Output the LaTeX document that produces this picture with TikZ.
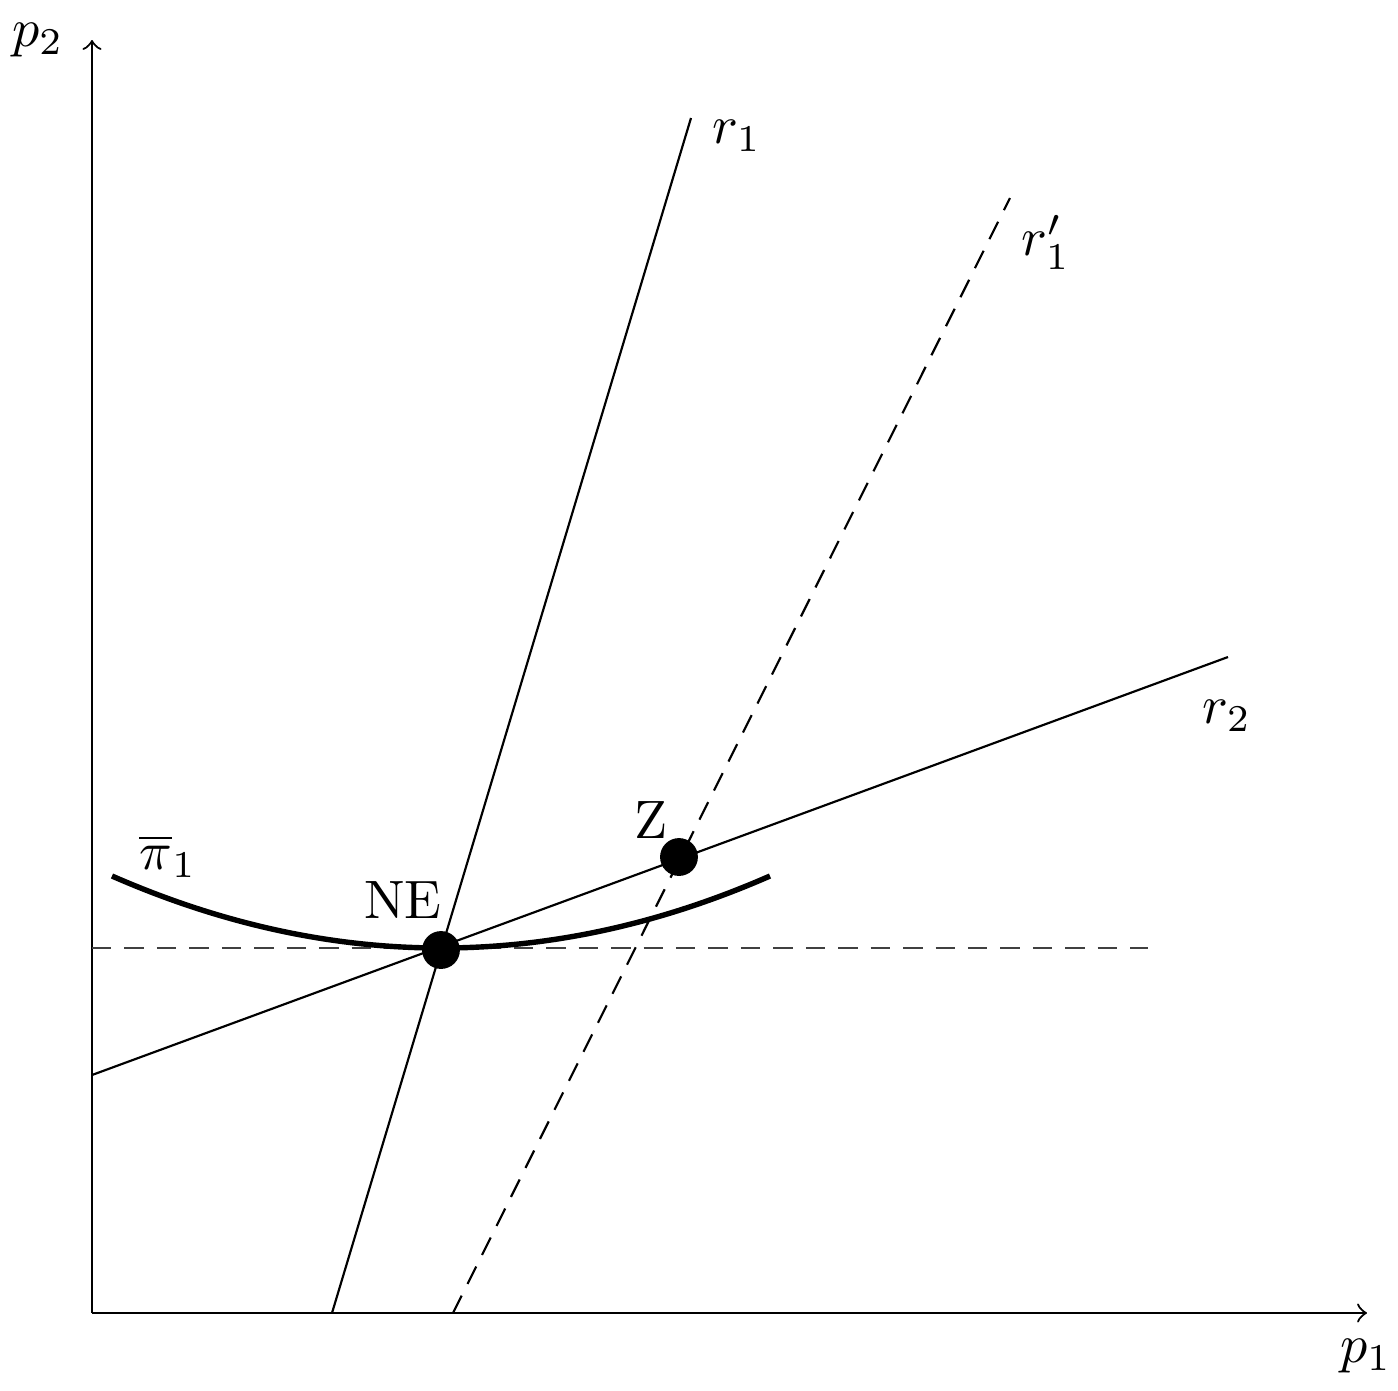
\documentclass[tikz,border=0pt]{standalone}
\begin{document}
\begin{tikzpicture}[x=0.0065cm,y=-0.0065cm,
  thinline/.style={line width=0.4pt},
  dashline/.style={line width=0.4pt,dash pattern=on 3.6pt off 2.4pt},
  dot/.style={circle,fill=black,inner sep=0pt,minimum size=7pt},
  lbl/.style={inner sep=0pt}]
\useasboundingbox (0,0) rectangle (1398,1391);
% axes
\coordinate (O) at (92,1313);
\coordinate (X) at (1367,1313);
\coordinate (Y) at (92,40);
\draw[thinline,->] (O) -- (X);
\draw[thinline,->] (O) -- (Y);
\node[lbl] (p1) at (1366,1356) {$p_1$};
\node[lbl] (p2) at (38,40) {$p_2$};
% r1
\coordinate (r1a) at (332,1313);
\coordinate (r1b) at (691,118);
\draw[thinline] (r1a) -- (r1b);
\node[lbl] (r1) at (737,136) {$r_1$};
% r1'
\coordinate (r1pa) at (453,1313);
\coordinate (r1pb) at (1010,198);
\draw[dashline] (r1pa) -- (r1pb);
\node[lbl] (r1p) at (1046,242) {$r_1'$};
% r2
\coordinate (r2a) at (92,1075);
\coordinate (r2b) at (1228,657);
\draw[thinline] (r2a) -- (r2b);
\node[lbl] (r2) at (1227,716) {$r_2$};
% horizontal dashed
\coordinate (ha) at (92,948);
\coordinate (hb) at (1148,948);
\draw[dashline,black!75] (ha) -- (hb);
% pi1 curve
\coordinate (pa) at (112,876);
\coordinate (pb) at (770,876);
\draw[line width=1pt] (pa) .. controls (331,972) and (551,972) .. (pb);
\node[lbl] (pi) at (168,856) {$\overline{\pi}_1$};
% dots
\node[dot] (NE) at (441,950) {};
\node[dot] (Z) at (679,857) {};
\node[lbl] (NEl) at (403,900) {NE};
\node[lbl] (Zl) at (651,820) {Z};
\end{tikzpicture}
\end{document}
